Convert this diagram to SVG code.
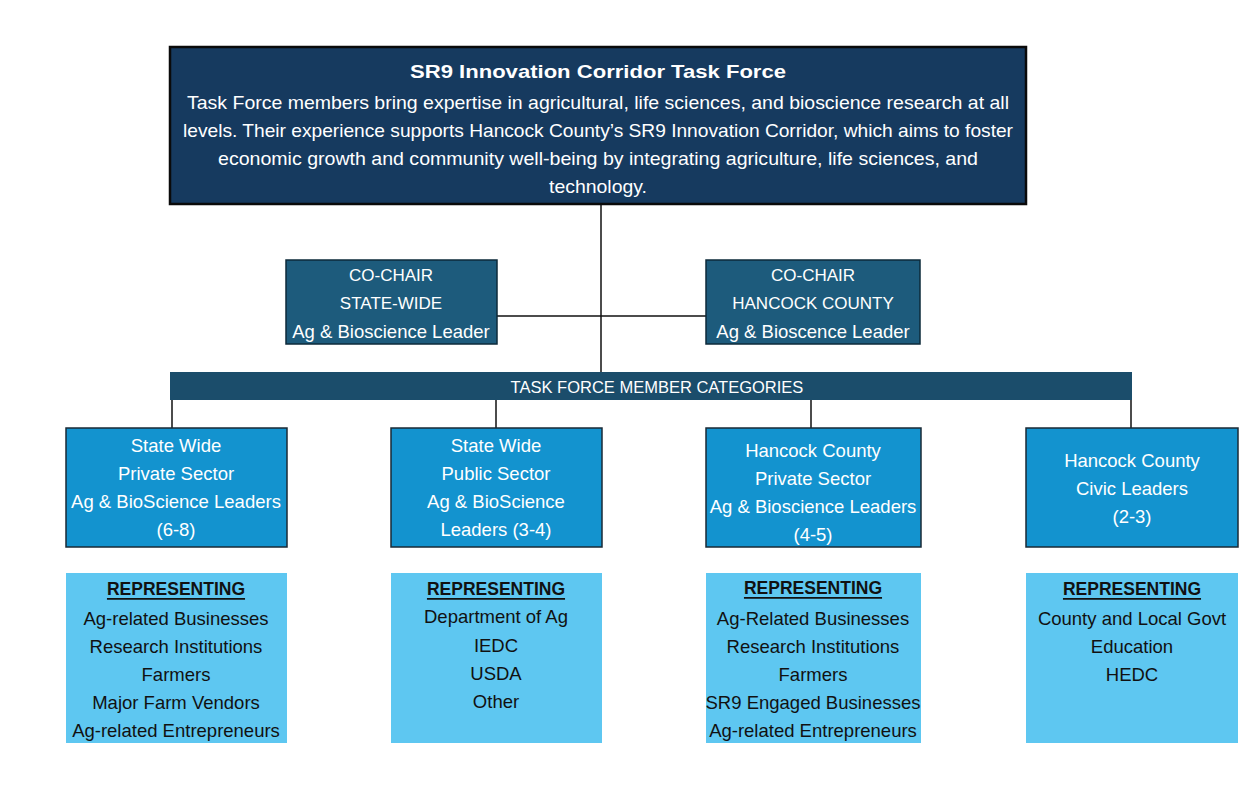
<svg xmlns="http://www.w3.org/2000/svg" width="1247" height="804" viewBox="0 0 1247 804">
<style>
text{font-family:"Liberation Sans",Arial,sans-serif;text-anchor:middle;dominant-baseline:central}
.w{fill:#ffffff;font-size:18.5px}
.c{fill:#ffffff;font-size:17px}
.k{fill:#111111;font-size:18.5px}
.h{fill:#111111;font-size:17.5px;font-weight:bold;text-decoration:underline}
.top{fill:#163a5f;stroke:#0a0a0a;stroke-width:2.5}
.co{fill:#1d5b7c;stroke:#0d2a3a;stroke-width:1.5}
.bar{fill:#1b4d6b}
.mem{fill:#1393cf;stroke:#1a2a36;stroke-width:1.5}
.rep{fill:#5ec7f1}
.ln{stroke:#111111;stroke-width:1.5;fill:none}
</style>
<rect width="1247" height="804" fill="#ffffff"/>
<g id="connectors">
<line class="ln" x1="601" y1="204" x2="601" y2="372"/>
<line class="ln" x1="497" y1="316" x2="706" y2="316"/>
<line class="ln" x1="172" y1="400" x2="172" y2="428"/>
<line class="ln" x1="496" y1="400" x2="496" y2="428"/>
<line class="ln" x1="811" y1="400" x2="811" y2="428"/>
<line class="ln" x1="1131" y1="400" x2="1131" y2="428"/>
</g>
<g id="task-force">
<rect class="top" x="170" y="47" width="856" height="157"/>
<text class="c" x="598" y="71" style="font-size:19px;font-weight:bold" textLength="376" lengthAdjust="spacingAndGlyphs">SR9 Innovation Corridor Task Force</text>
<text class="w" x="598" y="102" textLength="822" lengthAdjust="spacingAndGlyphs">Task Force members bring expertise in agricultural, life sciences, and bioscience research at all</text>
<text class="w" x="598" y="130" textLength="830" lengthAdjust="spacingAndGlyphs">levels. Their experience supports Hancock County’s SR9 Innovation Corridor, which aims to foster</text>
<text class="w" x="598" y="158" textLength="760" lengthAdjust="spacingAndGlyphs">economic growth and community well-being by integrating agriculture, life sciences, and</text>
<text class="w" x="598" y="186" textLength="98" lengthAdjust="spacingAndGlyphs">technology.</text>
</g>
<g id="cochair-state">
<rect class="co" x="286" y="260" width="211" height="84"/>
<text class="c" x="391" y="275">CO-CHAIR</text>
<text class="c" x="391" y="303">STATE-WIDE</text>
<text class="w" x="391" y="331">Ag &amp; Bioscience Leader</text>
</g>
<g id="cochair-county">
<rect class="co" x="706" y="260" width="214" height="84"/>
<text class="c" x="813" y="275">CO-CHAIR</text>
<text class="c" x="813" y="303">HANCOCK COUNTY</text>
<text class="w" x="813" y="331">Ag &amp; Bioscence Leader</text>
</g>
<g id="categories">
<rect class="bar" x="170" y="372" width="962" height="28"/>
<text class="c" x="657" y="387" style="font-size:16.5px">TASK FORCE MEMBER CATEGORIES</text>
</g>
<g id="sw-private">
<rect class="mem" x="66" y="428" width="221" height="119"/>
<text class="w" x="176" y="445">State Wide</text>
<text class="w" x="176" y="473">Private Sector</text>
<text class="w" x="176" y="501">Ag &amp; BioScience Leaders</text>
<text class="w" x="176" y="529">(6-8)</text>
</g>
<g id="sw-public">
<rect class="mem" x="391" y="428" width="211" height="119"/>
<text class="w" x="496" y="445">State Wide</text>
<text class="w" x="496" y="473">Public Sector</text>
<text class="w" x="496" y="501">Ag &amp; BioScience</text>
<text class="w" x="496" y="529">Leaders (3-4)</text>
</g>
<g id="hc-private">
<rect class="mem" x="706" y="428" width="215" height="119"/>
<text class="w" x="813" y="450">Hancock County</text>
<text class="w" x="813" y="478">Private Sector</text>
<text class="w" x="813" y="506">Ag &amp; Bioscience Leaders</text>
<text class="w" x="813" y="534">(4-5)</text>
</g>
<g id="hc-civic">
<rect class="mem" x="1026" y="428" width="212" height="119"/>
<text class="w" x="1132" y="460">Hancock County</text>
<text class="w" x="1132" y="488">Civic Leaders</text>
<text class="w" x="1132" y="516">(2-3)</text>
</g>
<g id="rep-sw-private">
<rect class="rep" x="66" y="573" width="221" height="170"/>
<text class="h" x="176" y="589">REPRESENTING</text>
<text class="k" x="176" y="618">Ag-related Businesses</text>
<text class="k" x="176" y="646">Research Institutions</text>
<text class="k" x="176" y="674">Farmers</text>
<text class="k" x="176" y="702">Major Farm Vendors</text>
<text class="k" x="176" y="730">Ag-related Entrepreneurs</text>
</g>
<g id="rep-sw-public">
<rect class="rep" x="391" y="573" width="211" height="170"/>
<text class="h" x="496" y="589">REPRESENTING</text>
<text class="k" x="496" y="616">Department of Ag</text>
<text class="k" x="496" y="645">IEDC</text>
<text class="k" x="496" y="673">USDA</text>
<text class="k" x="496" y="701">Other</text>
</g>
<g id="rep-hc-private">
<rect class="rep" x="706" y="573" width="215" height="170"/>
<text class="h" x="813" y="588">REPRESENTING</text>
<text class="k" x="813" y="618">Ag-Related Businesses</text>
<text class="k" x="813" y="646">Research Institutions</text>
<text class="k" x="813" y="674">Farmers</text>
<text class="k" x="813" y="702">SR9 Engaged Businesses</text>
<text class="k" x="813" y="730">Ag-related Entrepreneurs</text>
</g>
<g id="rep-hc-civic">
<rect class="rep" x="1026" y="573" width="212" height="170"/>
<text class="h" x="1132" y="589">REPRESENTING</text>
<text class="k" x="1132" y="618">County and Local Govt</text>
<text class="k" x="1132" y="646">Education</text>
<text class="k" x="1132" y="674">HEDC</text>
</g>
</svg>
